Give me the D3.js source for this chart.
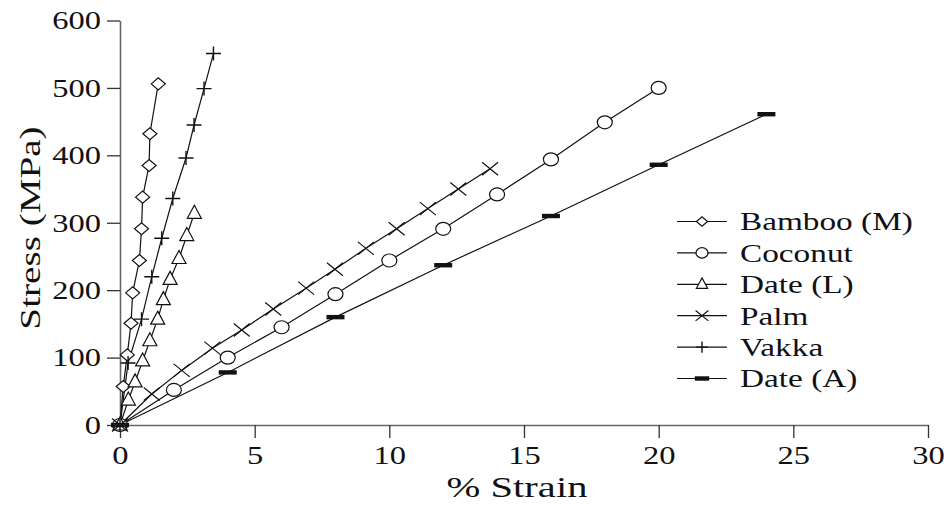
<!DOCTYPE html>
<html><head><meta charset="utf-8">
<script src="https://cdn.jsdelivr.net/npm/d3@7"></script>
<style>body{margin:0;background:#fff}svg{display:block}text{font-family:"Liberation Serif","Times New Roman",serif;fill:#111}</style>
</head><body><div id="chart"></div>
<script>
const seriesNames = ["Bamboo (M)", "Coconut", "Date (L)", "Palm", "Vakka", "Date (A)"];
const bambooStrain = [0, 0.12, 0.27, 0.41, 0.47, 0.72, 0.80, 0.84, 1.08, 1.11, 1.42];
const bambooStress = [0, 57, 104, 151, 196, 244, 291, 338, 385, 432, 506];
const coconutStrain = [0, 2, 4, 6, 8, 10, 12, 14, 16, 18, 20];
const coconutStress = [0, 52, 100, 145, 194, 244, 291, 342, 394, 449, 500];
const dateLStrain = [0, 0.31, 0.56, 0.84, 1.11, 1.40, 1.61, 1.86, 2.19, 2.48, 2.76];
const dateLStress = [0, 37, 64, 95, 125, 157, 186, 216, 247, 281, 314];
const palmStrain = [0, 1.18, 2.29, 3.43, 4.52, 5.69, 6.91, 7.98, 9.13, 10.27, 11.43, 12.56, 13.74];
const palmStress = [0, 46, 81, 114, 141, 172, 203, 231, 262, 291, 321, 350, 380];
const vakkaStrain = [0, 0.3, 0.80, 1.18, 1.55, 1.96, 2.45, 2.75, 3.12, 3.47];
const vakkaStress = [0, 92, 157, 220, 277, 336, 396, 445, 499, 551];
const dateAStrain = [0, 4, 8, 12, 16, 20, 24];
const dateAStress = [0, 78, 160, 237, 310, 386, 461];
const xTicks = [0, 5, 10, 15, 20, 25, 30];
const yTicks = [0, 100, 200, 300, 400, 500, 600];
const xTitle = "% Strain";
const yTitle = "Stress (MPa)";

const series = [
  {name: seriesNames[0], x: bambooStrain, y: bambooStress, m: "diamond"},
  {name: seriesNames[1], x: coconutStrain, y: coconutStress, m: "circle"},
  {name: seriesNames[2], x: dateLStrain, y: dateLStress, m: "triangle"},
  {name: seriesNames[3], x: palmStrain, y: palmStress, m: "cross"},
  {name: seriesNames[4], x: vakkaStrain, y: vakkaStress, m: "plus"},
  {name: seriesNames[5], x: dateAStrain, y: dateAStress, m: "dash"}
];

const W = 944, H = 505;
const svg = d3.select("#chart").append("svg").attr("width", W).attr("height", H);
const x = d3.scaleLinear().domain([0, 30]).range([120, 928]);
const y = d3.scaleLinear().domain([0, 600]).range([425, 20.5]);
const SX = 1.25;

// axes
const axisColor = "#666";
const gx = svg.append("g").attr("transform", `translate(0,${y(0)})`)
  .call(d3.axisBottom(x).tickValues(xTicks).tickSize(13).tickSizeOuter(0).tickPadding(4));
const gy = svg.append("g").attr("transform", `translate(${x(0)},0)`)
  .call(d3.axisLeft(y).tickValues(yTicks).tickSize(13).tickSizeOuter(0).tickPadding(5));
[gx, gy].forEach(g => {
  g.select(".domain").attr("stroke", axisColor).attr("stroke-width", 1.6);
  g.selectAll(".tick line").attr("stroke", "#333").attr("stroke-width", 1.3);
  g.selectAll(".tick text").attr("font-size", 26).attr("fill", "#111")
    .attr("font-family", '"Liberation Serif",serif');
});
gx.selectAll(".tick text").each(function() {
  const t = d3.select(this);
  t.attr("y", 0).attr("dy", "0.71em").attr("transform", `translate(0,21) scale(${SX},1)`);
});
gy.selectAll(".tick text").each(function() {
  const t = d3.select(this);
  const xx = +t.attr("x");
  t.attr("x", 0).attr("transform", `translate(${xx - 1},0) scale(${SX},1)`);
});

// lines
const line = d3.line().x(d => x(d[0])).y(d => y(d[1]));
const plot = svg.append("g");
series.forEach(s => {
  const pts = s.x.map((v, i) => [v, s.y[i]]);
  plot.append("path").attr("d", line(pts)).attr("fill", "none")
    .attr("stroke", "#111").attr("stroke-width", 1.2);
});

function marker(g, type, cx, cy, k) {
  let el;
  if (type === "diamond") {
    el = g.append("path").attr("d", `M${cx - 7*k},${cy}L${cx},${cy - 6*k}L${cx + 7*k},${cy}L${cx},${cy + 6*k}Z`);
  } else if (type === "circle") {
    el = g.append("ellipse").attr("cx", cx).attr("cy", cy).attr("rx", 7.5*k).attr("ry", 6.5*k);
  } else if (type === "triangle") {
    el = g.append("path").attr("d", `M${cx},${cy - 8*k}L${cx + 7*k},${cy + 5*k}L${cx - 7*k},${cy + 5*k}Z`);
  } else if (type === "cross") {
    g.append("path").attr("d", `M${cx - 8*k},${cy - 6.5*k}L${cx + 8*k},${cy + 6.5*k}M${cx - 8*k},${cy + 6.5*k}L${cx + 8*k},${cy - 6.5*k}`)
      .attr("fill", "none").attr("stroke", "#111").attr("stroke-width", 1.2);
    return;
  } else if (type === "plus") {
    g.append("path").attr("d", `M${cx - 7.5*k},${cy}L${cx + 7.5*k},${cy}M${cx},${cy - 7*k}L${cx},${cy + 7*k}`)
      .attr("fill", "none").attr("stroke", "#111").attr("stroke-width", 1.4);
    return;
  } else if (type === "dash") {
    g.append("rect").attr("x", cx - 9*k).attr("y", cy - 2.2).attr("width", 18*k).attr("height", 4.4)
      .attr("fill", "#111");
    return;
  }
  el.attr("stroke", "#111").attr("stroke-width", 1.2).attr("fill", "#fff");
}

series.forEach(s => {
  s.x.forEach((v, i) => marker(plot, s.m, x(v), y(s.y[i]), 1));
});

// legend
const lg = svg.append("g");
series.forEach((s, i) => {
  const cy = 221.5 + i * 31.4;
  lg.append("line").attr("x1", 677).attr("x2", 727).attr("y1", cy).attr("y2", cy)
    .attr("stroke", "#111").attr("stroke-width", 1.2);
  marker(lg, s.m, 702, cy, 0.8);
  lg.append("text").attr("transform", `translate(740,${cy}) scale(1.28,1)`)
    .attr("dy", "0.34em").attr("font-size", 26).text(s.name);
});

// titles
svg.append("text").attr("transform", `translate(517,487) scale(1.4,1)`)
  .attr("text-anchor", "middle").attr("dy", "0.35em").attr("font-size", 29).text(xTitle);
svg.append("text").attr("transform", `translate(30,228) rotate(-90) scale(1.35,1)`)
  .attr("text-anchor", "middle").attr("dy", "0.35em").attr("font-size", 29).text(yTitle);
</script></body></html>
